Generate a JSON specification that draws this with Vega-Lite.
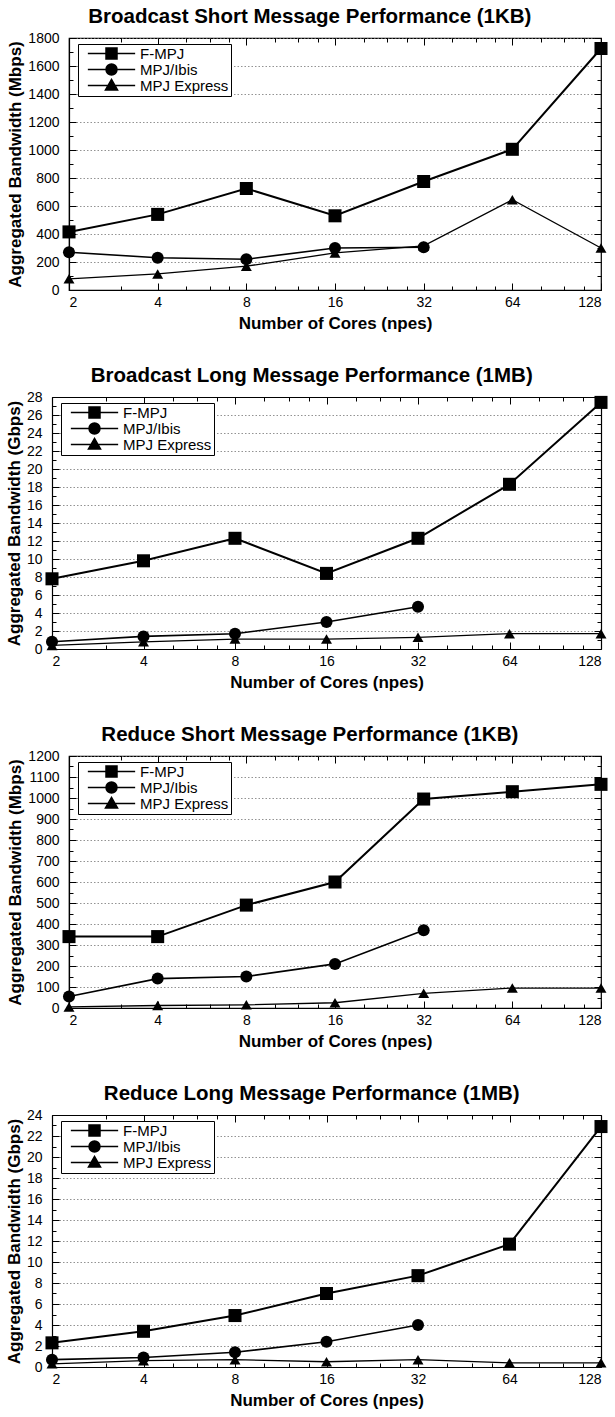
{
  "$schema": "https://vega.github.io/schema/vega-lite/v6.json",
  "background": "white",
  "padding": 5,
  "spacing": 33,
  "columns": 1,
  "config": {
    "font": "Liberation Sans",
    "view": {"stroke": "black", "strokeWidth": 1.2},
    "axis": {"tickColor": "black", "domainColor": "black", "domainWidth": 1.2, "labelColor": "black", "titleColor": "black", "labelFont": "Liberation Sans", "titleFont": "Liberation Sans", "labelFontSize": 14, "titleFontSize": 17, "titleFontWeight": "bold"},
    "title": {"fontSize": 20.5, "fontWeight": "bold", "color": "black", "offset": 4, "frame": "bounds"},
    "legend": {"labelFont": "Liberation Sans", "labelFontSize": 15, "labelColor": "black"}
  },
  "datasets": {
    "bs": [
      {"n": 2, "series": "F-MPJ", "v": 415}, {"n": 4, "series": "F-MPJ", "v": 540}, {"n": 8, "series": "F-MPJ", "v": 725}, {"n": 16, "series": "F-MPJ", "v": 530}, {"n": 32, "series": "F-MPJ", "v": 775}, {"n": 64, "series": "F-MPJ", "v": 1005}, {"n": 128, "series": "F-MPJ", "v": 1725},
      {"n": 2, "series": "MPJ/Ibis", "v": 270}, {"n": 4, "series": "MPJ/Ibis", "v": 230}, {"n": 8, "series": "MPJ/Ibis", "v": 220}, {"n": 16, "series": "MPJ/Ibis", "v": 300}, {"n": 32, "series": "MPJ/Ibis", "v": 305},
      {"n": 2, "series": "MPJ Express", "v": 80}, {"n": 4, "series": "MPJ Express", "v": 115}, {"n": 8, "series": "MPJ Express", "v": 170}, {"n": 16, "series": "MPJ Express", "v": 265}, {"n": 32, "series": "MPJ Express", "v": 315}, {"n": 64, "series": "MPJ Express", "v": 645}, {"n": 128, "series": "MPJ Express", "v": 300}
    ],
    "bl": [
      {"n": 2, "series": "F-MPJ", "v": 7.8}, {"n": 4, "series": "F-MPJ", "v": 9.8}, {"n": 8, "series": "F-MPJ", "v": 12.3}, {"n": 16, "series": "F-MPJ", "v": 8.4}, {"n": 32, "series": "F-MPJ", "v": 12.3}, {"n": 64, "series": "F-MPJ", "v": 18.3}, {"n": 128, "series": "F-MPJ", "v": 27.4},
      {"n": 2, "series": "MPJ/Ibis", "v": 0.8}, {"n": 4, "series": "MPJ/Ibis", "v": 1.4}, {"n": 8, "series": "MPJ/Ibis", "v": 1.7}, {"n": 16, "series": "MPJ/Ibis", "v": 3.0}, {"n": 32, "series": "MPJ/Ibis", "v": 4.7},
      {"n": 2, "series": "MPJ Express", "v": 0.4}, {"n": 4, "series": "MPJ Express", "v": 0.8}, {"n": 8, "series": "MPJ Express", "v": 1.1}, {"n": 16, "series": "MPJ Express", "v": 1.1}, {"n": 32, "series": "MPJ Express", "v": 1.3}, {"n": 64, "series": "MPJ Express", "v": 1.7}, {"n": 128, "series": "MPJ Express", "v": 1.7}
    ],
    "rs": [
      {"n": 2, "series": "F-MPJ", "v": 340}, {"n": 4, "series": "F-MPJ", "v": 340}, {"n": 8, "series": "F-MPJ", "v": 490}, {"n": 16, "series": "F-MPJ", "v": 600}, {"n": 32, "series": "F-MPJ", "v": 995}, {"n": 64, "series": "F-MPJ", "v": 1030}, {"n": 128, "series": "F-MPJ", "v": 1065},
      {"n": 2, "series": "MPJ/Ibis", "v": 55}, {"n": 4, "series": "MPJ/Ibis", "v": 140}, {"n": 8, "series": "MPJ/Ibis", "v": 150}, {"n": 16, "series": "MPJ/Ibis", "v": 210}, {"n": 32, "series": "MPJ/Ibis", "v": 370},
      {"n": 2, "series": "MPJ Express", "v": 5}, {"n": 4, "series": "MPJ Express", "v": 12}, {"n": 8, "series": "MPJ Express", "v": 15}, {"n": 16, "series": "MPJ Express", "v": 25}, {"n": 32, "series": "MPJ Express", "v": 70}, {"n": 64, "series": "MPJ Express", "v": 95}, {"n": 128, "series": "MPJ Express", "v": 95}
    ],
    "rl": [
      {"n": 2, "series": "F-MPJ", "v": 2.3}, {"n": 4, "series": "F-MPJ", "v": 3.4}, {"n": 8, "series": "F-MPJ", "v": 4.9}, {"n": 16, "series": "F-MPJ", "v": 7.0}, {"n": 32, "series": "F-MPJ", "v": 8.7}, {"n": 64, "series": "F-MPJ", "v": 11.7}, {"n": 128, "series": "F-MPJ", "v": 22.9},
      {"n": 2, "series": "MPJ/Ibis", "v": 0.7}, {"n": 4, "series": "MPJ/Ibis", "v": 0.9}, {"n": 8, "series": "MPJ/Ibis", "v": 1.4}, {"n": 16, "series": "MPJ/Ibis", "v": 2.4}, {"n": 32, "series": "MPJ/Ibis", "v": 4.0},
      {"n": 2, "series": "MPJ Express", "v": 0.3}, {"n": 4, "series": "MPJ Express", "v": 0.6}, {"n": 8, "series": "MPJ Express", "v": 0.7}, {"n": 16, "series": "MPJ Express", "v": 0.5}, {"n": 32, "series": "MPJ Express", "v": 0.7}, {"n": 64, "series": "MPJ Express", "v": 0.4}, {"n": 128, "series": "MPJ Express", "v": 0.4}
    ]
  },
  "concat": [
    {
      "title": "Broadcast Short Message Performance (1KB)",
      "data": {"name": "bs"},
      "width": 532, "height": 252,
      "resolve": {"axis": {"x": "independent", "y": "independent"}, "scale": {"shape": "independent"}},
      "layer": [
        {"mark": {"type": "line", "color": "black"},
         "encoding": {
           "x": {"field": "n", "type": "quantitative", "scale": {"type": "log", "base": 2, "domain": [2, 128], "nice": false}, "axis": {"orient": "bottom", "values": [2, 4, 8, 16, 32, 64, 128], "format": "d", "title": "Number of Cores (npes)", "grid": false, "tickSize": -7, "labelPadding": 12, "titlePadding": 6}},
           "y": {"field": "v", "type": "quantitative", "scale": {"domain": [0, 1800], "nice": false}, "axis": {"orient": "left", "values": [0, 200, 400, 600, 800, 1000, 1200, 1400, 1600, 1800], "format": "d", "title": "Aggregated Bandwidth (Mbps)", "grid": true, "gridColor": "#777", "gridDash": [1.5, 2], "gridWidth": 0.8, "tickSize": -7, "labelPadding": 17, "titlePadding": 3}},
           "detail": {"field": "series"},
           "strokeWidth": {"field": "series", "type": "nominal", "scale": {"domain": ["F-MPJ", "MPJ/Ibis", "MPJ Express"], "range": [2, 1.3, 1.3]}, "legend": null}
         }},
        {"mark": {"type": "point", "filled": true, "color": "black", "opacity": 1},
         "encoding": {
           "x": {"field": "n", "type": "quantitative", "axis": {"orient": "bottom", "values": [3, 5, 6, 7, 10, 12, 14, 20, 24, 28, 40, 48, 56, 80, 96, 112], "labels": false, "domain": false, "grid": false, "title": null, "tickSize": -4}},
           "y": {"field": "v", "type": "quantitative", "axis": {"orient": "left", "values": [100, 300, 500, 700, 900, 1100, 1300, 1500, 1700], "labels": false, "domain": false, "grid": false, "title": null, "tickSize": -4}},
           "shape": {"field": "series", "type": "nominal", "scale": {"domain": ["F-MPJ", "MPJ/Ibis", "MPJ Express"], "range": ["square", "circle", "triangle-up"]}, "legend": null},
           "size": {"field": "series", "type": "nominal", "scale": {"domain": ["F-MPJ", "MPJ/Ibis", "MPJ Express"], "range": [170, 120, 110]}, "legend": null}
         }},
        {"mark": {"type": "point", "filled": false, "fill": "black", "color": "black", "opacity": 0, "strokeWidth": 1.5},
         "encoding": {
           "x": {"field": "n", "type": "quantitative", "axis": {"orient": "top", "values": [2, 4, 8, 16, 32, 64, 128], "labels": false, "domain": false, "grid": false, "title": null, "tickSize": -7}},
           "y": {"field": "v", "type": "quantitative", "axis": {"orient": "right", "values": [0, 200, 400, 600, 800, 1000, 1200, 1400, 1600, 1800], "labels": false, "domain": false, "grid": false, "title": null, "tickSize": -7}},
           "shape": {"field": "series", "type": "nominal", "scale": {"domain": ["F-MPJ", "MPJ/Ibis", "MPJ Express"], "range": ["M-4.3,0L4.3,0M-1,-1L1,-1L1,1L-1,1Z", "M-4.3,0L4.3,0M-1,0A1,1,0,1,0,1,0A1,1,0,1,0,-1,0Z", "M-4.3,0L4.3,0M0,-1.1L1.1,0.8L-1.1,0.8Z"]},
             "legend": {"title": null, "orient": "none", "legendX": 9, "legendY": 6, "strokeColor": "black", "fillColor": "white", "padding": 2, "symbolSize": 121, "symbolOffset": 24, "labelOffset": 21, "rowPadding": 0, "clipHeight": 15,
               "encode": {"symbols": {"update": {"stroke": {"value": "black"}, "strokeWidth": {"value": 1.5}, "fill": {"value": "black"}, "opacity": {"value": 1}, "strokeOpacity": {"value": 1}, "fillOpacity": {"value": 1}}}}}}
         }},
        {"mark": {"type": "point", "opacity": 0},
         "encoding": {
           "x": {"field": "n", "type": "quantitative", "axis": {"orient": "top", "values": [3, 5, 6, 7, 10, 12, 14, 20, 24, 28, 40, 48, 56, 80, 96, 112], "labels": false, "domain": false, "grid": false, "title": null, "tickSize": -4}},
           "y": {"field": "v", "type": "quantitative", "axis": {"orient": "right", "values": [100, 300, 500, 700, 900, 1100, 1300, 1500, 1700], "labels": false, "domain": false, "grid": false, "title": null, "tickSize": -4}}
         }}
      ]
    },
    {
      "title": "Broadcast Long Message Performance (1MB)",
      "data": {"name": "bl"},
      "width": 532, "height": 252,
      "view": {"stroke": null},
      "resolve": {"axis": {"x": "independent", "y": "independent"}, "scale": {"shape": "independent"}},
      "layer": [
        {"mark": {"type": "line", "color": "black"},
         "encoding": {
           "x": {"field": "n", "type": "quantitative", "scale": {"type": "log", "base": 2, "domain": [2, 128], "nice": false, "rangeMin": -17}, "axis": {"orient": "bottom", "values": [2, 4, 8, 16, 32, 64, 128], "format": "d", "title": "Number of Cores (npes)", "grid": false, "tickSize": -7, "labelPadding": 12, "titlePadding": 6}},
           "y": {"field": "v", "type": "quantitative", "scale": {"domain": [0, 28], "nice": false}, "axis": {"orient": "left", "offset": 17, "values": [0, 2, 4, 6, 8, 10, 12, 14, 16, 18, 20, 22, 24, 26, 28], "format": "d", "title": "Aggregated Bandwidth (Gbps)", "grid": true, "gridColor": "#777", "gridDash": [1.5, 2], "gridWidth": 0.8, "tickSize": -7, "labelPadding": 17, "titlePadding": 3}},
           "detail": {"field": "series"},
           "strokeWidth": {"field": "series", "type": "nominal", "scale": {"domain": ["F-MPJ", "MPJ/Ibis", "MPJ Express"], "range": [2, 1.3, 1.3]}, "legend": null}
         }},
        {"mark": {"type": "point", "filled": true, "color": "black", "opacity": 1},
         "encoding": {
           "x": {"field": "n", "type": "quantitative", "axis": {"orient": "bottom", "values": [3, 5, 6, 7, 10, 12, 14, 20, 24, 28, 40, 48, 56, 80, 96, 112], "labels": false, "domain": false, "grid": false, "title": null, "tickSize": -4}},
           "y": {"field": "v", "type": "quantitative", "axis": {"orient": "left", "offset": 17, "values": [1, 3, 5, 7, 9, 11, 13, 15, 17, 19, 21, 23, 25, 27], "labels": false, "domain": false, "grid": false, "title": null, "tickSize": -4}},
           "shape": {"field": "series", "type": "nominal", "scale": {"domain": ["F-MPJ", "MPJ/Ibis", "MPJ Express"], "range": ["square", "circle", "triangle-up"]}, "legend": null},
           "size": {"field": "series", "type": "nominal", "scale": {"domain": ["F-MPJ", "MPJ/Ibis", "MPJ Express"], "range": [170, 120, 110]}, "legend": null}
         }},
        {"mark": {"type": "point", "filled": false, "fill": "black", "color": "black", "opacity": 0, "strokeWidth": 1.5},
         "encoding": {
           "x": {"field": "n", "type": "quantitative", "axis": {"orient": "top", "values": [2, 4, 8, 16, 32, 64, 128], "labels": false, "domain": true, "grid": false, "title": null, "tickSize": -7}},
           "y": {"field": "v", "type": "quantitative", "axis": {"orient": "right", "values": [0, 2, 4, 6, 8, 10, 12, 14, 16, 18, 20, 22, 24, 26, 28], "labels": false, "domain": true, "grid": false, "title": null, "tickSize": -7}},
           "shape": {"field": "series", "type": "nominal", "scale": {"domain": ["F-MPJ", "MPJ/Ibis", "MPJ Express"], "range": ["M-4.3,0L4.3,0M-1,-1L1,-1L1,1L-1,1Z", "M-4.3,0L4.3,0M-1,0A1,1,0,1,0,1,0A1,1,0,1,0,-1,0Z", "M-4.3,0L4.3,0M0,-1.1L1.1,0.8L-1.1,0.8Z"]},
             "legend": {"title": null, "orient": "none", "legendX": -8, "legendY": 6, "strokeColor": "black", "fillColor": "white", "padding": 2, "symbolSize": 121, "symbolOffset": 24, "labelOffset": 21, "rowPadding": 0, "clipHeight": 15,
               "encode": {"symbols": {"update": {"stroke": {"value": "black"}, "strokeWidth": {"value": 1.5}, "fill": {"value": "black"}, "opacity": {"value": 1}, "strokeOpacity": {"value": 1}, "fillOpacity": {"value": 1}}}}}}
         }},
        {"mark": {"type": "point", "opacity": 0},
         "encoding": {
           "x": {"field": "n", "type": "quantitative", "axis": {"orient": "top", "values": [3, 5, 6, 7, 10, 12, 14, 20, 24, 28, 40, 48, 56, 80, 96, 112], "labels": false, "domain": false, "grid": false, "title": null, "tickSize": -4}},
           "y": {"field": "v", "type": "quantitative", "axis": {"orient": "right", "values": [1, 3, 5, 7, 9, 11, 13, 15, 17, 19, 21, 23, 25, 27], "labels": false, "domain": false, "grid": false, "title": null, "tickSize": -4}}
         }}
      ]
    },
    {
      "title": "Reduce Short Message Performance (1KB)",
      "data": {"name": "rs"},
      "width": 532, "height": 252,
      "resolve": {"axis": {"x": "independent", "y": "independent"}, "scale": {"shape": "independent"}},
      "layer": [
        {"mark": {"type": "line", "color": "black"},
         "encoding": {
           "x": {"field": "n", "type": "quantitative", "scale": {"type": "log", "base": 2, "domain": [2, 128], "nice": false}, "axis": {"orient": "bottom", "values": [2, 4, 8, 16, 32, 64, 128], "format": "d", "title": "Number of Cores (npes)", "grid": false, "tickSize": -7, "labelPadding": 12, "titlePadding": 6}},
           "y": {"field": "v", "type": "quantitative", "scale": {"domain": [0, 1200], "nice": false}, "axis": {"orient": "left", "values": [0, 100, 200, 300, 400, 500, 600, 700, 800, 900, 1000, 1100, 1200], "format": "d", "title": "Aggregated Bandwidth (Mbps)", "grid": true, "gridColor": "#777", "gridDash": [1.5, 2], "gridWidth": 0.8, "tickSize": -7, "labelPadding": 17, "titlePadding": 3}},
           "detail": {"field": "series"},
           "strokeWidth": {"field": "series", "type": "nominal", "scale": {"domain": ["F-MPJ", "MPJ/Ibis", "MPJ Express"], "range": [2, 1.3, 1.3]}, "legend": null}
         }},
        {"mark": {"type": "point", "filled": true, "color": "black", "opacity": 1},
         "encoding": {
           "x": {"field": "n", "type": "quantitative", "axis": {"orient": "bottom", "values": [3, 5, 6, 7, 10, 12, 14, 20, 24, 28, 40, 48, 56, 80, 96, 112], "labels": false, "domain": false, "grid": false, "title": null, "tickSize": -4}},
           "y": {"field": "v", "type": "quantitative", "axis": {"orient": "left", "values": [50, 150, 250, 350, 450, 550, 650, 750, 850, 950, 1050, 1150], "labels": false, "domain": false, "grid": false, "title": null, "tickSize": -4}},
           "shape": {"field": "series", "type": "nominal", "scale": {"domain": ["F-MPJ", "MPJ/Ibis", "MPJ Express"], "range": ["square", "circle", "triangle-up"]}, "legend": null},
           "size": {"field": "series", "type": "nominal", "scale": {"domain": ["F-MPJ", "MPJ/Ibis", "MPJ Express"], "range": [170, 120, 110]}, "legend": null}
         }},
        {"mark": {"type": "point", "filled": false, "fill": "black", "color": "black", "opacity": 0, "strokeWidth": 1.5},
         "encoding": {
           "x": {"field": "n", "type": "quantitative", "axis": {"orient": "top", "values": [2, 4, 8, 16, 32, 64, 128], "labels": false, "domain": false, "grid": false, "title": null, "tickSize": -7}},
           "y": {"field": "v", "type": "quantitative", "axis": {"orient": "right", "values": [0, 100, 200, 300, 400, 500, 600, 700, 800, 900, 1000, 1100, 1200], "labels": false, "domain": false, "grid": false, "title": null, "tickSize": -7}},
           "shape": {"field": "series", "type": "nominal", "scale": {"domain": ["F-MPJ", "MPJ/Ibis", "MPJ Express"], "range": ["M-4.3,0L4.3,0M-1,-1L1,-1L1,1L-1,1Z", "M-4.3,0L4.3,0M-1,0A1,1,0,1,0,1,0A1,1,0,1,0,-1,0Z", "M-4.3,0L4.3,0M0,-1.1L1.1,0.8L-1.1,0.8Z"]},
             "legend": {"title": null, "orient": "none", "legendX": 9, "legendY": 6, "strokeColor": "black", "fillColor": "white", "padding": 2, "symbolSize": 121, "symbolOffset": 24, "labelOffset": 21, "rowPadding": 0, "clipHeight": 15,
               "encode": {"symbols": {"update": {"stroke": {"value": "black"}, "strokeWidth": {"value": 1.5}, "fill": {"value": "black"}, "opacity": {"value": 1}, "strokeOpacity": {"value": 1}, "fillOpacity": {"value": 1}}}}}}
         }},
        {"mark": {"type": "point", "opacity": 0},
         "encoding": {
           "x": {"field": "n", "type": "quantitative", "axis": {"orient": "top", "values": [3, 5, 6, 7, 10, 12, 14, 20, 24, 28, 40, 48, 56, 80, 96, 112], "labels": false, "domain": false, "grid": false, "title": null, "tickSize": -4}},
           "y": {"field": "v", "type": "quantitative", "axis": {"orient": "right", "values": [50, 150, 250, 350, 450, 550, 650, 750, 850, 950, 1050, 1150], "labels": false, "domain": false, "grid": false, "title": null, "tickSize": -4}}
         }}
      ]
    },
    {
      "title": "Reduce Long Message Performance (1MB)",
      "data": {"name": "rl"},
      "width": 532, "height": 252,
      "view": {"stroke": null},
      "resolve": {"axis": {"x": "independent", "y": "independent"}, "scale": {"shape": "independent"}},
      "layer": [
        {"mark": {"type": "line", "color": "black"},
         "encoding": {
           "x": {"field": "n", "type": "quantitative", "scale": {"type": "log", "base": 2, "domain": [2, 128], "nice": false, "rangeMin": -17}, "axis": {"orient": "bottom", "values": [2, 4, 8, 16, 32, 64, 128], "format": "d", "title": "Number of Cores (npes)", "grid": false, "tickSize": -7, "labelPadding": 12, "titlePadding": 6}},
           "y": {"field": "v", "type": "quantitative", "scale": {"domain": [0, 24], "nice": false}, "axis": {"orient": "left", "offset": 17, "values": [0, 2, 4, 6, 8, 10, 12, 14, 16, 18, 20, 22, 24], "format": "d", "title": "Aggregated Bandwidth (Gbps)", "grid": true, "gridColor": "#777", "gridDash": [1.5, 2], "gridWidth": 0.8, "tickSize": -7, "labelPadding": 17, "titlePadding": 3}},
           "detail": {"field": "series"},
           "strokeWidth": {"field": "series", "type": "nominal", "scale": {"domain": ["F-MPJ", "MPJ/Ibis", "MPJ Express"], "range": [2, 1.3, 1.3]}, "legend": null}
         }},
        {"mark": {"type": "point", "filled": true, "color": "black", "opacity": 1},
         "encoding": {
           "x": {"field": "n", "type": "quantitative", "axis": {"orient": "bottom", "values": [3, 5, 6, 7, 10, 12, 14, 20, 24, 28, 40, 48, 56, 80, 96, 112], "labels": false, "domain": false, "grid": false, "title": null, "tickSize": -4}},
           "y": {"field": "v", "type": "quantitative", "axis": {"orient": "left", "offset": 17, "values": [1, 3, 5, 7, 9, 11, 13, 15, 17, 19, 21, 23], "labels": false, "domain": false, "grid": false, "title": null, "tickSize": -4}},
           "shape": {"field": "series", "type": "nominal", "scale": {"domain": ["F-MPJ", "MPJ/Ibis", "MPJ Express"], "range": ["square", "circle", "triangle-up"]}, "legend": null},
           "size": {"field": "series", "type": "nominal", "scale": {"domain": ["F-MPJ", "MPJ/Ibis", "MPJ Express"], "range": [170, 120, 110]}, "legend": null}
         }},
        {"mark": {"type": "point", "filled": false, "fill": "black", "color": "black", "opacity": 0, "strokeWidth": 1.5},
         "encoding": {
           "x": {"field": "n", "type": "quantitative", "axis": {"orient": "top", "values": [2, 4, 8, 16, 32, 64, 128], "labels": false, "domain": true, "grid": false, "title": null, "tickSize": -7}},
           "y": {"field": "v", "type": "quantitative", "axis": {"orient": "right", "values": [0, 2, 4, 6, 8, 10, 12, 14, 16, 18, 20, 22, 24], "labels": false, "domain": true, "grid": false, "title": null, "tickSize": -7}},
           "shape": {"field": "series", "type": "nominal", "scale": {"domain": ["F-MPJ", "MPJ/Ibis", "MPJ Express"], "range": ["M-4.3,0L4.3,0M-1,-1L1,-1L1,1L-1,1Z", "M-4.3,0L4.3,0M-1,0A1,1,0,1,0,1,0A1,1,0,1,0,-1,0Z", "M-4.3,0L4.3,0M0,-1.1L1.1,0.8L-1.1,0.8Z"]},
             "legend": {"title": null, "orient": "none", "legendX": -8, "legendY": 6, "strokeColor": "black", "fillColor": "white", "padding": 2, "symbolSize": 121, "symbolOffset": 24, "labelOffset": 21, "rowPadding": 0, "clipHeight": 15,
               "encode": {"symbols": {"update": {"stroke": {"value": "black"}, "strokeWidth": {"value": 1.5}, "fill": {"value": "black"}, "opacity": {"value": 1}, "strokeOpacity": {"value": 1}, "fillOpacity": {"value": 1}}}}}}
         }},
        {"mark": {"type": "point", "opacity": 0},
         "encoding": {
           "x": {"field": "n", "type": "quantitative", "axis": {"orient": "top", "values": [3, 5, 6, 7, 10, 12, 14, 20, 24, 28, 40, 48, 56, 80, 96, 112], "labels": false, "domain": false, "grid": false, "title": null, "tickSize": -4}},
           "y": {"field": "v", "type": "quantitative", "axis": {"orient": "right", "values": [1, 3, 5, 7, 9, 11, 13, 15, 17, 19, 21, 23], "labels": false, "domain": false, "grid": false, "title": null, "tickSize": -4}}
         }}
      ]
    }
  ]
}
